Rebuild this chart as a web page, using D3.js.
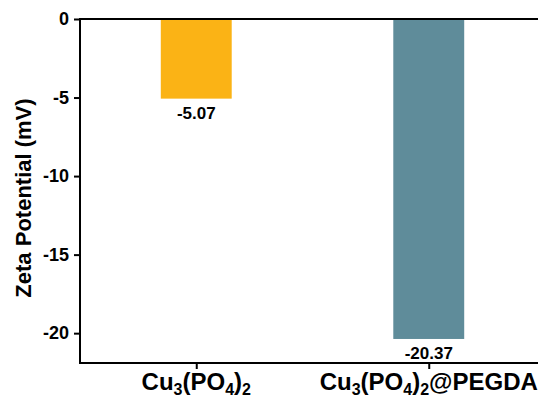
<!DOCTYPE html>
<html>
<head>
<meta charset="utf-8">
<script src="https://cdn.jsdelivr.net/npm/d3@7"></script>
<style>
  body { margin: 0; background: #fff; }
  text { font-family: "Liberation Sans", Arial, sans-serif; font-weight: bold; }
</style>
</head>
<body>
<svg width="538" height="408"></svg>
<script>
// data
var categories = ["Cu3(PO4)2", "Cu3(PO4)2@PEGDA"];
var values = [-5.07, -20.37];
var colors = ["#FBB315", "#5F8C9A"];
var yTicks = [0, -5, -10, -15, -20];

var svg = d3.select("svg");

var mLeft = 80, mRight = 545, mTop = 19, mBottom = 363;

var xScale = d3.scalePoint().domain(categories).range([mLeft, mRight]).padding(0.5),
    yScale = d3.scaleLinear().domain([-21.9, 0]).range([mBottom, mTop]);

var barW = xScale.step() * 0.305;

// bars
svg.selectAll(".bar")
   .data(values)
   .enter().append("rect")
   .attr("class", "bar")
   .attr("x", function(d, i) { return xScale(categories[i]) - barW / 2; })
   .attr("y", yScale(0))
   .attr("width", barW)
   .attr("height", function(d) { return yScale(d) - yScale(0); })
   .attr("fill", function(d, i) { return colors[i]; });

// value labels
svg.selectAll(".val")
   .data(values)
   .enter().append("text")
   .attr("class", "val")
   .attr("x", function(d, i) { return xScale(categories[i]); })
   .attr("y", function(d) { return yScale(d) + 20; })
   .attr("text-anchor", "middle")
   .attr("font-size", 17)
   .text(function(d) { return d.toFixed(2); });

// y axis (plain hyphen for minus, like the original)
var yAxis = svg.append("g")
   .attr("transform", "translate(" + mLeft + ",0)")
   .call(d3.axisLeft(yScale).tickValues(yTicks).tickSize(6).tickSizeOuter(0)
           .tickFormat(function(d) { return String(d); }));
yAxis.select(".domain").remove();
yAxis.selectAll(".tick line").attr("stroke", "#000").attr("stroke-width", 2);
yAxis.selectAll(".tick text")
     .attr("font-size", 18).attr("font-family", null)
     .attr("x", -11).attr("fill", "#000");

// x axis
var xAxis = svg.append("g")
   .attr("transform", "translate(0," + mBottom + ")")
   .call(d3.axisBottom(xScale).tickSize(6).tickSizeOuter(0).tickFormat(""));
xAxis.select(".domain").remove();
xAxis.selectAll(".tick line").attr("stroke", "#000").attr("stroke-width", 2);
xAxis.selectAll(".tick text").remove();

// frame lines
svg.append("path")
   .attr("d", "M" + mRight + "," + mTop + "H" + mLeft + "V" + mBottom + "H" + mRight)
   .attr("fill", "none")
   .attr("stroke", "#000")
   .attr("stroke-width", 2);

// category labels with subscript digits
svg.selectAll(".cat")
   .data(categories)
   .enter().append("text")
   .attr("class", "cat")
   .attr("x", function(d) { return xScale(d); })
   .attr("y", 390)
   .attr("text-anchor", "middle")
   .attr("font-size", 24)
   .each(function(d) {
     var t = d3.select(this);
     var re = /(\d)|([^\d]+)/g, m;
     while ((m = re.exec(d)) !== null) {
       if (m[1]) {
         t.append("tspan").attr("font-size", 16).attr("baseline-shift", -5).text(m[1]);
       } else {
         t.append("tspan").text(m[2]);
       }
     }
   });

// y title
svg.append("text")
   .attr("transform", "translate(31,198) rotate(-90)")
   .attr("text-anchor", "middle")
   .attr("font-size", 22)
   .text("Zeta Potential (mV)");
</script>
</body>
</html>
